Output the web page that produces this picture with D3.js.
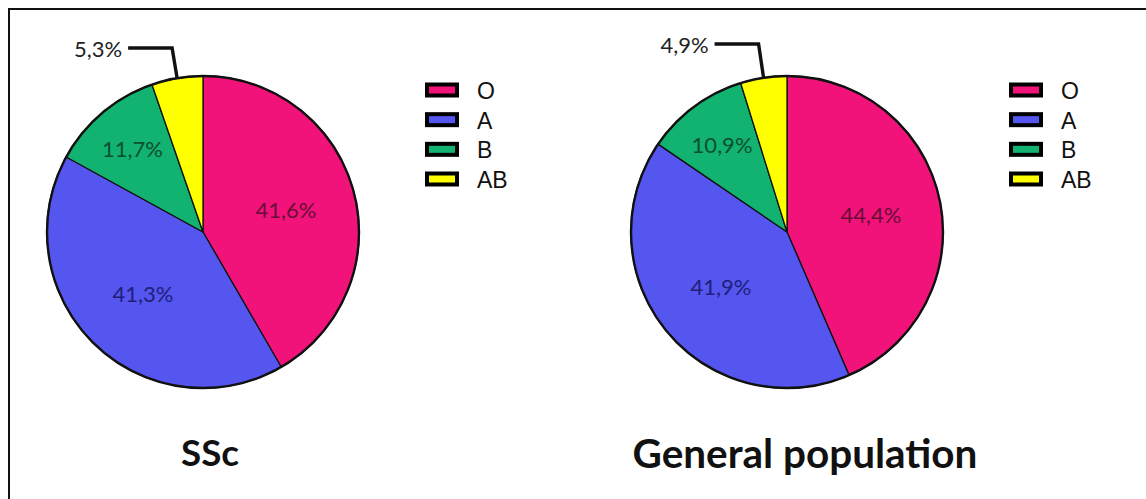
<!DOCTYPE html>
<html>
<head>
<meta charset="utf-8">
<script src="https://cdn.jsdelivr.net/npm/d3@7"></script>
<style>
  html, body { margin: 0; padding: 0; background: #fff; }
  svg { display: block; }
</style>
</head>
<body>
<svg id="chart" width="1146" height="499"></svg>
<script>
// Blood group distribution, two populations
const groups = ["O", "A", "B", "AB"];
const sscValues = [41.6, 41.3, 11.7, 5.3];
const generalValues = [44.4, 41.9, 10.9, 4.9];
const panelTitles = ["SSc", "General population"];
const groupColors = ["#f2137a", "#5555ef", "#12b270", "#ffff00"];
const labelColors = ["#6a0c38", "#20207a", "#0a4f31", "#222222"];

const svg = d3.select("#chart");
const W = 1146, H = 499;

// outer frame (runs off the right and bottom edges)
svg.append("rect")
  .attr("x", 9).attr("y", 9)
  .attr("width", W + 20).attr("height", H + 20)
  .attr("fill", "#fff")
  .attr("stroke", "#111").attr("stroke-width", 2);

const color = d3.scaleOrdinal().domain(groups).range(groupColors);
const textColor = d3.scaleOrdinal().domain(groups).range(labelColors);

const fmt = v => v.toFixed(1).replace(".", ",") + "%";

const panels = [
  { values: sscValues, title: panelTitles[0], cx: 203, cy: 232, legendX: 425, titleX: 210, titleW: 58, calloutRise: 28 },
  { values: generalValues, title: panelTitles[1], cx: 787, cy: 232, legendX: 1009, titleX: 805, titleW: 345, calloutRise: 32 }
];

const R = 156;
const pie = d3.pie().sort(null).value(d => d.value);
const arc = d3.arc().innerRadius(0).outerRadius(R);
const labelFont = "Lato, 'Open Sans', sans-serif";

panels.forEach(p => {
  const data = groups.map((g, i) => ({ group: g, value: p.values[i] }));
  const arcs = pie(data);
  const g = svg.append("g").attr("transform", `translate(${p.cx},${p.cy})`);

  g.selectAll("path.slice")
    .data(arcs)
    .join("path")
    .attr("class", "slice")
    .attr("d", arc)
    .attr("fill", d => color(d.data.group))
    .attr("stroke", "#111")
    .attr("stroke-width", 1.3)
    .attr("stroke-linejoin", "round");

  // outline
  g.append("circle").attr("r", R)
    .attr("fill", "none").attr("stroke", "#111").attr("stroke-width", 2.4);

  // in-slice labels for the larger groups
  arcs.forEach(d => {
    const frac = (d.endAngle - d.startAngle) / (2 * Math.PI);
    if (frac < 0.08) return;
    const lr = frac > 0.3 ? R * 0.55 : R * 0.70;
    const mid = (d.startAngle + d.endAngle) / 2;
    const la = d3.arc().innerRadius(lr).outerRadius(lr);
    const [x, y] = la.centroid({ startAngle: mid, endAngle: mid });
    g.append("text")
      .attr("x", x).attr("y", y)
      .attr("text-anchor", "middle")
      .attr("dominant-baseline", "central")
      .attr("font-family", labelFont)
      .attr("font-size", 22)
      .attr("fill", textColor(d.data.group))
      .text(fmt(d.data.value));
  });

  // callout for the smallest slice
  const small = arcs[arcs.length - 1];
  const mid = (small.startAngle + small.endAngle) / 2;
  const edge = d3.arc().innerRadius(R).outerRadius(R).centroid({ startAngle: mid, endAngle: mid });
  const elbow = [edge[0] - 5, -R - p.calloutRise];
  const end = [elbow[0] - 44, elbow[1]];
  g.append("path")
    .attr("d", d3.line()([edge, elbow, end]))
    .attr("fill", "none").attr("stroke", "#111").attr("stroke-width", 3.4)
    .attr("stroke-linejoin", "miter");
  g.append("text")
    .attr("x", end[0] - 6).attr("y", end[1])
    .attr("text-anchor", "end")
    .attr("dominant-baseline", "central")
    .attr("font-family", labelFont)
    .attr("font-size", 22)
    .attr("fill", "#222")
    .text(fmt(small.data.value));

  // legend
  const legend = svg.append("g").attr("transform", `translate(${p.legendX},90)`);
  const rowY = d3.scalePoint().domain(groups).range([0, 89]);
  groups.forEach(gr => {
    const row = legend.append("g").attr("transform", `translate(0,${rowY(gr)})`);
    row.append("rect")
      .attr("x", 2).attr("y", -5.5)
      .attr("width", 30).attr("height", 11)
      .attr("fill", color(gr))
      .attr("stroke", "#000").attr("stroke-width", 4);
    row.append("text")
      .attr("x", 52).attr("y", 1)
      .attr("dominant-baseline", "central")
      .attr("font-family", "'Liberation Sans', Arial, sans-serif")
      .attr("font-size", 23)
      .attr("fill", "#111")
      .text(gr);
  });

  // panel title, sized to its target width
  const t = svg.append("text")
    .attr("x", p.titleX).attr("y", 452)
    .attr("text-anchor", "middle")
    .attr("dominant-baseline", "central")
    .attr("font-family", labelFont)
    .attr("font-weight", "bold")
    .attr("font-size", 34)
    .attr("fill", "#111")
    .text(p.title);
  const w = t.node().getComputedTextLength();
  if (w > 0) t.attr("font-size", 34 * p.titleW / w);
});
</script>
</body>
</html>
